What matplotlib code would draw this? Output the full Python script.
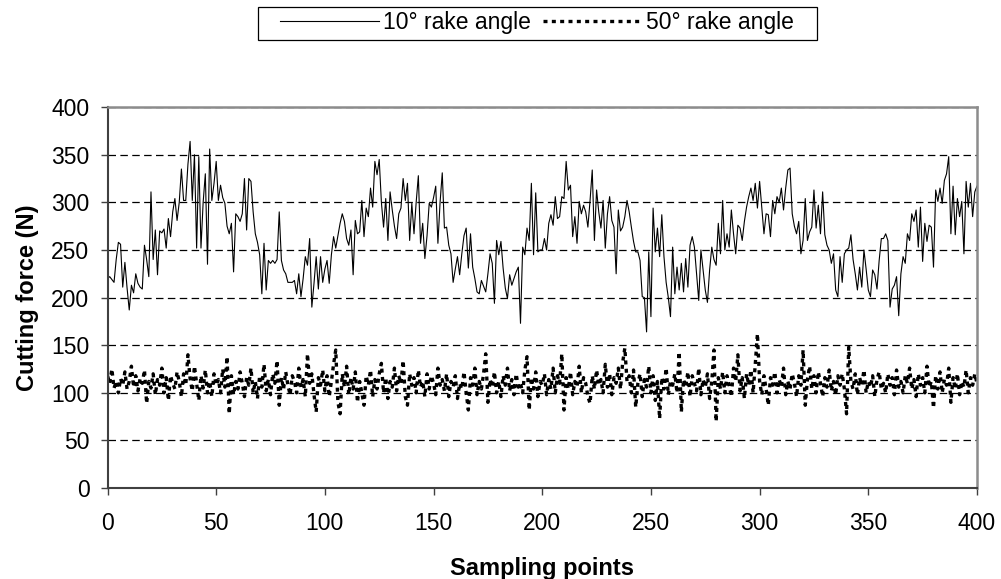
import matplotlib.pyplot as plt
import numpy as np
from matplotlib.patches import Rectangle

plt.rcParams['font.family'] = ['Liberation Sans', 'DejaVu Sans']

# cutting force (N), 10 deg rake angle, samples 0..400
force_10 = [
    220, 222, 219, 216, 240, 258, 256, 211, 237, 210, 187, 213, 205, 225, 215, 211, 209, 255, 240, 222,
    311, 240, 271, 224, 270, 268, 272, 252, 283, 264, 290, 304, 281, 300, 335, 302, 302, 340, 364, 302,
    350, 252, 348, 252, 300, 330, 235, 356, 302, 320, 343,
    302, 318, 305, 299, 275, 267, 278, 227, 288, 285, 280, 288, 325, 271, 325, 322, 290, 267, 258, 245,
    204, 257, 208, 239, 236, 239, 236, 240, 290, 239, 229, 225, 216, 216, 216, 218, 204, 225, 201, 220,
    243, 234, 262, 190, 215, 243, 209, 243, 216, 230, 239,
    215, 245, 264, 252, 265, 278, 288, 280, 262, 255, 271, 224, 281, 267, 269, 302, 264, 294, 285, 315,
    295, 343, 329, 345, 300, 274, 304, 260, 311, 292, 275, 262, 288, 294, 325, 302, 320, 260, 299, 267,
    300, 328, 257, 278, 241, 265, 299, 295, 305, 317, 257,
    300, 331, 273, 274, 255, 246, 216, 230, 243, 224, 246, 265, 273, 231, 267, 232, 220, 206, 204, 218,
    212, 206, 225, 246, 236, 194, 260, 245, 259, 231, 210, 199, 224, 213, 220, 227, 232, 173, 253, 245,
    273, 260, 320, 245, 310, 248, 250, 250, 262, 250, 278,
    287, 276, 306, 283, 285, 306, 304, 343, 313, 318, 264, 285, 257, 301, 288, 297, 290, 274, 302, 334,
    260, 313, 290, 273, 302, 252, 288, 306, 281, 274, 225, 292, 270, 274, 285, 302, 290, 274, 259, 248,
    248, 239, 201, 200, 164, 248, 180, 294, 248, 273,
    243, 287, 243, 216, 200, 180, 253, 204, 232, 208, 236, 206, 241, 211, 255, 264, 253, 225, 197, 250,
    229, 208, 195, 229, 253, 240, 234, 278, 246, 302, 250, 267, 253, 292, 267, 246, 276, 273, 260, 280,
    295, 306, 315, 302, 320, 294, 322, 295, 267, 288, 287,
    264, 302, 288, 306, 300, 315, 292, 315, 334, 336, 288, 275, 267, 280, 246, 260, 304, 260, 269, 274,
    313, 273, 297, 267, 311, 266, 255, 250, 236, 246, 208, 201, 243, 216, 246, 250, 252, 266, 240, 225,
    208, 232, 211, 250, 230, 208, 201, 229, 224, 209, 239,
    262, 262, 267, 260, 190, 209, 213, 222, 181, 225, 243, 236, 267, 260, 288, 280, 292, 253, 295, 238,
    278, 259, 276, 274, 232, 313, 301, 315, 299, 323, 330, 348, 267, 317, 266, 304, 285, 301, 246, 322,
    295, 320, 285, 311, 317,
]

# cutting force (N), 50 deg rake angle
force_50 = [
    118, 110, 125, 105, 112, 100, 115, 108, 122, 104, 112, 128, 106, 118, 102, 115, 110, 124, 89, 112,
    105, 120, 98, 114, 108, 126, 100, 116, 92, 118, 110, 104, 122, 112, 96, 120, 108, 140, 115, 102,
    128, 110, 92, 118, 105, 124, 100, 112, 96, 120, 108, 114, 100, 125, 106, 138, 78, 118, 98, 112,
    104, 122, 110, 96, 116, 108, 126, 100, 112, 94, 118, 106, 130, 102, 114, 98, 120, 110, 134, 87,
    116, 104, 122, 108, 98, 118, 112, 100, 126, 106, 114, 96, 141, 110, 120, 98, 80, 116, 108, 124,
    102, 118, 96, 112, 130, 145, 90, 78, 120, 106, 128, 98, 116, 104, 122, 90, 112, 100, 87, 118,
    108, 124, 96, 114, 104, 120, 131, 100, 116, 94, 112, 106, 126, 102, 118, 110, 134, 96, 87, 120,
    108, 116, 100, 124, 106, 112, 96, 120, 104, 118, 110, 98, 126, 108, 114, 102, 120, 96, 112, 106,
    118, 94, 110, 104, 122, 100, 82, 116, 108, 126, 98, 112, 104, 120, 141, 90, 114, 106, 122, 100,
    112, 96, 118, 108, 126, 102, 114, 98, 120, 106, 110, 100, 124, 138, 82, 116, 104, 122, 96, 112,
    108, 120, 98, 114, 104, 126, 100, 118, 110, 141, 82, 116, 104, 122, 98, 112, 106, 128, 100, 116,
    110, 96, 89, 118, 104, 124, 108, 114, 100, 130, 106, 120, 98, 116, 110, 126, 104, 132, 147, 112,
    118, 100, 124, 85, 110, 120, 96, 114, 106, 128, 100, 118, 92, 112, 73, 116, 104, 126, 98, 112,
    108, 120, 100, 143, 80, 114, 106, 122, 96, 118, 110, 102, 126, 98, 114, 106, 120, 94, 112, 145,
    70, 116, 104, 122, 100, 118, 108, 96, 126, 112, 140, 102, 116, 94, 120, 108, 124, 100, 130, 162,
    112, 98, 118, 104, 87, 116, 108, 122, 100, 114, 106, 126, 98, 112, 104, 120, 110, 96, 118, 108,
    145, 87, 114, 128, 104, 118, 100, 122, 110, 96, 116, 106, 124, 102, 112, 98, 118, 108, 120, 104,
    78, 148, 112, 104, 120, 98, 116, 108, 124, 100, 112, 106, 118, 96, 114, 122, 104, 110, 100, 120,
    108, 116, 98, 124, 106, 112, 100, 118, 110, 126, 104, 114, 96, 120, 108, 116, 100, 128, 106, 112,
    84, 118, 104, 122, 100, 114, 108, 126, 90, 116, 104, 120, 98, 112, 106, 124, 100, 116, 108, 120,
    110,
]

y_ticks = [0, 50, 100, 150, 200, 250, 300, 350, 400]
x_ticks = [0, 50, 100, 150, 200, 250, 300, 350, 400]

fig = plt.figure(figsize=(10.01, 5.79), dpi=100)
ax = fig.add_axes([0.1074, 0.157, 0.8686, 0.658])

ax.plot(np.arange(len(force_10)), force_10, color='black', lw=0.8, label='10° rake angle')
ax.plot(np.arange(len(force_50)), force_50, color='black', lw=2.4,
        linestyle=(0, (1.2, 1.3)), label='50° rake angle')

ax.set_xlim(0, 400)
ax.set_ylim(0, 400)
ax.set_xticks(x_ticks)
ax.set_yticks(y_ticks)
ax.tick_params(labelsize=16.5, direction='out', length=5, width=1.0, color='#404040')
ax.tick_params(axis='y', pad=8)
ax.tick_params(axis='x', pad=12)
ax.yaxis.grid(True, color='black', linestyle=(0, (6, 3.5)), lw=0.9)
ax.set_axisbelow(True)

for side in ['top', 'right']:
    ax.spines[side].set_color('#8c8c8c')
    ax.spines[side].set_linewidth(1.8)
for side in ['left', 'bottom']:
    ax.spines[side].set_color('#404040')
    ax.spines[side].set_linewidth(1.5)

ax.set_xlabel('Sampling points', fontsize=17, fontweight='bold', labelpad=16)
ax.set_ylabel('Cutting force (N)', fontsize=17, fontweight='bold', labelpad=9)

# legend without its own frame, boxed by a plain rectangle like the original
fig.legend(loc='center', bbox_to_anchor=(0.5365, 0.961), ncol=2, fontsize=16.5,
           frameon=False, handlelength=4.3, columnspacing=0.5,
           handletextpad=0.2, borderpad=0.1)
fig.patches.append(Rectangle((0.2577, 0.9309), 0.5584, 0.057, transform=fig.transFigure,
                             fill=False, edgecolor='black', lw=0.9))

fig.savefig('out.png', dpi=100)
